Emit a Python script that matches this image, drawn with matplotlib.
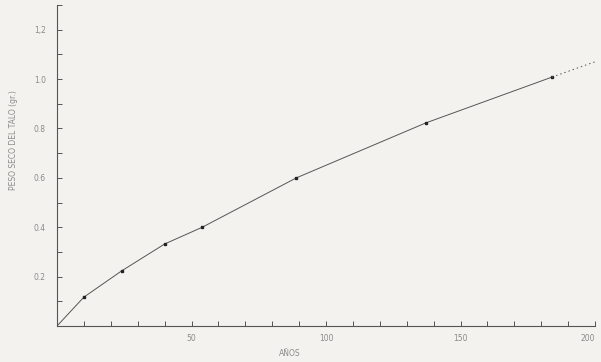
import matplotlib
matplotlib.use("Agg")
import matplotlib.pyplot as plt
import numpy as np

# data
years = [0, 10, 24, 40, 54, 89, 137, 184]
weight = [0.0, 0.117, 0.223, 0.332, 0.400, 0.600, 0.822, 1.008]
ext_years = [184, 200]
ext_weight = [1.008, 1.07]
xticklabels = [50, 100, 150, 200]
yticklabels = [0.2, 0.4, 0.6, 0.8, 1.0, 1.2]

bg = "#f4f2ee"
ink = "#555555"
txt = "#8a8a8a"

fig = plt.figure(figsize=(6.01, 3.62), dpi=100, facecolor=bg)
ax = fig.add_axes([57/601, 36/362, 538/601, 321/362])
ax.set_facecolor(bg)

ax.plot(years, weight, color=ink, lw=0.7)
ax.plot(years[1:], weight[1:], ls="none", marker="s", ms=1.7, color="#222222")
ax.plot(ext_years, ext_weight, color=ink, lw=0.7, ls=(0, (1.5, 3)))

ax.set_xlim(0, 200)
ax.set_ylim(0, 1.3)
for s in ["top", "right"]:
    ax.spines[s].set_visible(False)
for s in ["left", "bottom"]:
    ax.spines[s].set_color(ink)
    ax.spines[s].set_linewidth(0.8)

ax.set_xticks(np.arange(10, 201, 10), minor=True)
ax.set_xticks(xticklabels)
ax.set_xticklabels([str(v) for v in xticklabels])
ax.set_yticks(np.arange(0.1, 1.31, 0.1), minor=True)
ax.set_yticks(yticklabels)
ax.set_yticklabels([("%.1f" % v).replace("1.2", "1,2") for v in yticklabels])

ax.tick_params(axis="both", which="both", direction="in", color=ink, width=0.7,
               labelsize=5.5, labelcolor=txt)
ax.tick_params(axis="both", which="both", length=3.5)
ax.tick_params(axis="y", pad=8)
ax.tick_params(axis="x", pad=6)
ax.get_xticklabels()[-1].set_horizontalalignment("right")

fig.text(290/601, 1 - 353/362, "AÑOS", ha="center", va="center", fontsize=5.5, color=txt)
fig.text(13/601, 1 - 140/362, "PESO SECO DEL TALO (gr.)", ha="center", va="center",
         rotation=90, fontsize=5.5, color=txt)

fig.savefig("out.png", dpi=100, facecolor=bg)
